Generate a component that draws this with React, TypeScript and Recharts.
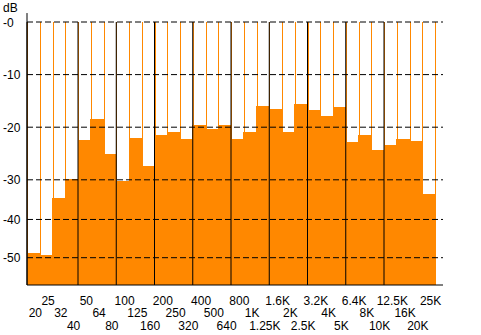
import React from 'react'
import { BarChart, Bar, XAxis, YAxis, ReferenceLine } from 'recharts'

// 1/3-octave band labels, as printed under the meter
const bands = [
  '20', '25', '32', '40', '50', '64', '80', '100', '125', '160', '200', '250', '320', '400', '500', '640',
  '800', '1K', '1.25K', '1.6K', '2K', '2.5K', '3.2K', '4K', '5K', '6.4K', '8K', '10K', '12.5K', '16K', '20K', '25K'
]

// level per band, dB
const levels = [
  -48.9, -49.4, -34.7, -29.8, -22.5, -18.4, -25.1, -30.4, -22.0, -27.3, -21.5, -21.0, -22.2, -19.6, -20.3, -19.6,
  -22.2, -21.0, -15.9, -16.5, -21.0, -15.5, -16.7, -17.8, -16.1, -22.9, -21.4, -24.4, -23.3, -22.2, -22.7, -33.5
]

const dbTicks = [0, -10, -20, -30, -40, -50]

// bands where a new octave group starts (black divider)
const octaveStarts = ['50', '100', '200', '400', '800', '1.6K', '3.2K', '6.4K', '12.5K']

// the meter squeezes its scale below -30 dB
const scaleBreaks = [
  { db: 0, pos: 0 },
  { db: -30, pos: -30 },
  { db: -40, pos: -37.54 },
  { db: -50, pos: -44.81 }
]
const FLOOR = -50

const dbToPos = (db: number) => {
  for (let i = 1; i < scaleBreaks.length; i++) {
    const a = scaleBreaks[i - 1]
    const b = scaleBreaks[i]
    if (db >= b.db || i === scaleBreaks.length - 1) {
      return a.pos + ((db - a.db) * (b.pos - a.pos)) / (b.db - a.db)
    }
  }
  return db
}

const data = bands.map((band, i) => ({ band, level: levels[i], range: [FLOOR, dbToPos(levels[i])] }))

const ORANGE = '#ff8800'
const FONT = '"Liberation Sans", Arial, sans-serif'

const BandShape = (props: any) => {
  const { x, y, width, height, background, index } = props
  const top = Math.min(y, y + height)
  const h = Math.abs(height)
  const ceil = background ? background.y : top
  const left = Math.round(x) + 0.5
  const right = Math.round(x + width) + 0.5
  // snap outward so neighbouring bands leave no seam
  const x0 = Math.floor(x)
  const x1 = Math.ceil(x + width)
  return (
    <g>
      <rect x={x0} y={top} width={x1 - x0} height={h} fill={ORANGE} shapeRendering="crispEdges" />
      <line x1={left} x2={left} y1={ceil} y2={top + h} stroke={ORANGE} />
      {index === bands.length - 1 && <line x1={right} x2={right} y1={ceil} y2={top + h} stroke={ORANGE} />}
    </g>
  )
}

const YTick = ({ y, payload }: any) => {
  const db = dbTicks.find((t) => Math.abs(dbToPos(t) - payload.value) < 0.01)
  if (db === undefined) return null
  return (
    <text x={3} y={y} dy={4.5} fontSize={12} fontFamily={FONT} fill="#000">
      {db === 0 ? '-0' : String(db)}
    </text>
  )
}

const XTick = ({ x, y, payload, index }: any) => {
  const row = index === 0 ? 1 : (index - 1) % 3
  return (
    <text x={x + 2} y={y + 19.5 + row * 12.8} textAnchor="middle" fontSize={12} fontFamily={FONT} fill="#000">
      {payload.value}
    </text>
  )
}

export default function App() {
  return (
    <div style={{ position: 'absolute', left: 0, top: 0, width: 481, height: 335, background: '#fff' }}>
      <div style={{ position: 'absolute', left: 3, top: 1, fontSize: 12, fontFamily: FONT, color: '#000' }}>dB</div>
      <BarChart width={481} height={335} data={data} margin={{ top: 22, right: 38, left: 0, bottom: 0 }} barCategoryGap={0}>
        <XAxis
          dataKey="band"
          interval={0}
          height={50}
          tickLine={false}
          tickSize={0}
          tickMargin={0}
          axisLine={{ stroke: '#000' }}
          padding={{ left: 0, right: 8 }}
          tick={<XTick />}
        />
        <YAxis
          type="number"
          domain={[FLOOR, 0]}
          ticks={dbTicks.map(dbToPos)}
          width={27}
          tickLine={false}
          axisLine={{ stroke: '#000' }}
          tick={<YTick />}
        />
        <Bar dataKey="range" barSize={12.74} shape={<BandShape />} isAnimationActive={false} />
        {octaveStarts.map((b) => (
          <ReferenceLine key={b} x={b} position="start" stroke="#000" strokeWidth={1} />
        ))}
        {dbTicks.map((t) => (
          <ReferenceLine key={t} y={dbToPos(t)} stroke="#000" strokeDasharray="6 3" />
        ))}
        <ReferenceLine
          segment={[{ x: bands[0], y: 1.7 }, { x: bands[0], y: FLOOR }]}
          position="start"
          ifOverflow="visible"
          stroke="#000"
        />
      </BarChart>
    </div>
  )
}
